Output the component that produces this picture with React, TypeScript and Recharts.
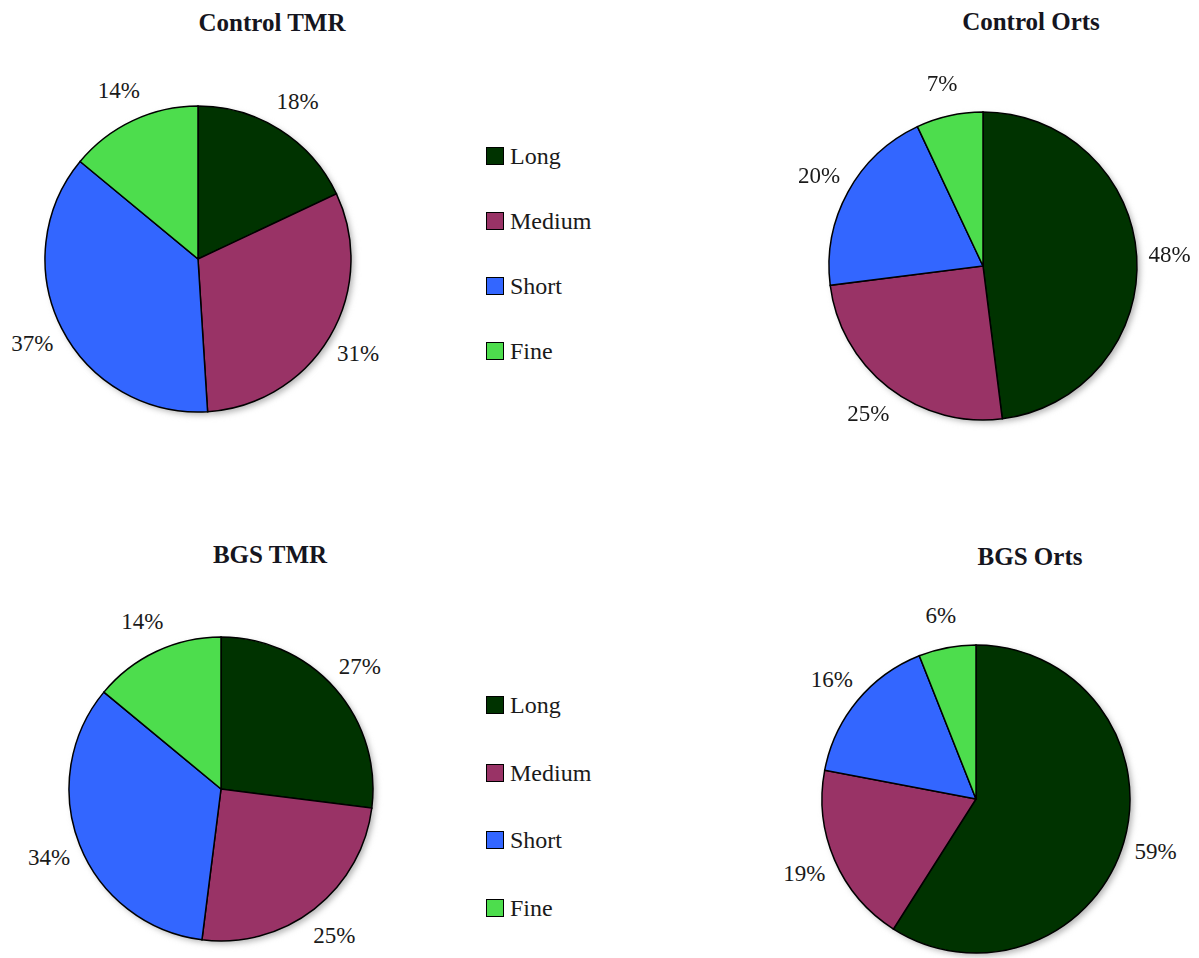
import React from 'react'
import { PieChart, Pie, Cell } from 'recharts'

const categories = ['Long', 'Medium', 'Short', 'Fine']
const sliceColors = ['#003300', '#993366', '#3366ff', '#4ddd4d']

const controlTmr = [18, 31, 37, 14]
const controlOrts = [48, 25, 20, 7]
const bgsTmr = [27, 25, 34, 14]
const bgsOrts = [59, 19, 16, 6]

const BOX = 460
const RAD = Math.PI / 180
const serif = '"Liberation Serif", "DejaVu Serif", serif'
const noMargin = { top: 0, right: 0, bottom: 0, left: 0 }

const toRows = (vals: number[]) => categories.map((name, i) => ({ name, value: vals[i] }))

// percentage text sits just outside the rim, on the slice's mid-angle
function pctLabel(props: any) {
  const { cx, cy, midAngle, outerRadius, value } = props
  const r = outerRadius + 33
  const x = cx + r * Math.cos(-midAngle * RAD)
  const y = cy + r * Math.sin(-midAngle * RAD)
  return (
    <text x={x} y={y} textAnchor="middle" dominantBaseline="central"
      style={{ fontFamily: serif, fontSize: 23, fill: '#1a1a1a' }}>
      {value}%
    </text>
  )
}

type PieProps = { title: string; values: number[]; cx: number; cy: number; r: number; titleX: number; titleY: number }

function FractionPie({ title, values, cx, cy, r, titleX, titleY }: PieProps) {
  const rows = toRows(values)
  return (
    <>
      <div style={{
        position: 'absolute', left: titleX - 150, top: titleY - 15, width: 300, textAlign: 'center',
        fontFamily: serif, fontWeight: 700, fontSize: 25, lineHeight: '30px', color: '#151520',
      }}>{title}</div>
      <div style={{ position: 'absolute', left: cx - BOX / 2, top: cy - BOX / 2 }}>
        <PieChart width={BOX} height={BOX} margin={noMargin} style={{ overflow: 'visible' }}>
          <Pie data={rows} dataKey="value" nameKey="name" className="pie-shadow"
            cx={BOX / 2 + 3} cy={BOX / 2 + 3} outerRadius={r} startAngle={90} endAngle={-270}
            fill="#b5b5b5" stroke="none" isAnimationActive={false} />
          <Pie data={rows} dataKey="value" nameKey="name"
            cx={BOX / 2} cy={BOX / 2} outerRadius={r} startAngle={90} endAngle={-270}
            stroke="#000" strokeWidth={1.5} label={pctLabel} labelLine={false} isAnimationActive={false}>
            {rows.map((row, i) => <Cell key={row.name} fill={sliceColors[i]} />)}
          </Pie>
        </PieChart>
      </div>
    </>
  )
}

function KeyList({ left, top, gap }: { left: number; top: number; gap: number }) {
  return (
    <div style={{ position: 'absolute', left, top }}>
      {categories.map((name, i) => (
        <div key={name} style={{ position: 'absolute', left: 0, top: i * gap, display: 'flex', alignItems: 'center', whiteSpace: 'nowrap' }}>
          <span style={{ width: 16, height: 16, background: sliceColors[i], border: '1px solid #000', display: 'inline-block' }} />
          <span style={{ fontFamily: serif, fontSize: 24, color: '#1a1a1a', marginLeft: 6, lineHeight: '18px' }}>{name}</span>
        </div>
      ))}
    </div>
  )
}

export default function App() {
  return (
    <div style={{ position: 'absolute', left: 0, top: 0, width: 1199, height: 958, overflow: 'hidden', background: '#fff' }}>
      <style>{'.pie-shadow { filter: blur(2px); }'}</style>
      <FractionPie title="Control TMR" values={controlTmr} cx={198} cy={259} r={153} titleX={272} titleY={23} />
      <FractionPie title="Control Orts" values={controlOrts} cx={983} cy={266} r={154} titleX={1031} titleY={22} />
      <FractionPie title="BGS TMR" values={bgsTmr} cx={221} cy={789} r={152} titleX={270} titleY={555} />
      <FractionPie title="BGS Orts" values={bgsOrts} cx={976} cy={799} r={154} titleX={1030} titleY={557} />
      <KeyList left={486} top={147} gap={65} />
      <KeyList left={486} top={696} gap={67.7} />
    </div>
  )
}
